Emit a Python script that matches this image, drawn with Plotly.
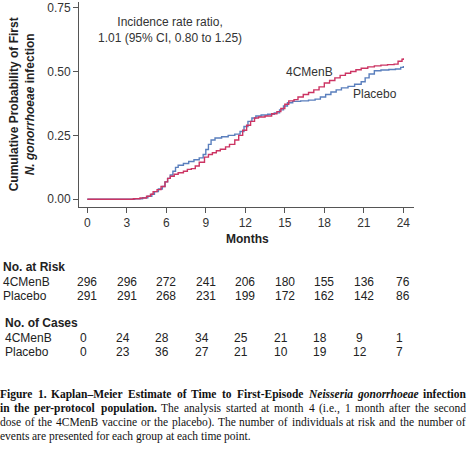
import re
import plotly.graph_objects as go

W, H = 468, 458

# Kaplan-Meier curves (months, cumulative probability)
t_menb = [0, 3.5, 4.0, 4.5, 4.8, 5.0, 5.3, 5.6, 5.9, 6.1, 6.3, 6.6, 6.9, 7.3, 7.6, 7.9, 8.2, 8.5,
          8.9, 9.2, 9.5, 9.8, 10.1, 10.5, 10.8, 11.2, 11.5, 11.8, 12.1, 12.4, 12.7, 13.0, 13.5,
          14.0, 14.4, 14.7, 15.0, 15.3, 15.7, 16.0, 16.4, 16.8, 17.2, 17.6, 18.0, 18.4, 18.8,
          19.2, 19.6, 20.0, 20.4, 20.8, 21.3, 21.8, 22.3, 22.8, 23.3, 23.6, 23.9, 24.0]
p_menb = [0, 0.002, 0.005, 0.012, 0.02, 0.03, 0.038, 0.05, 0.068, 0.082, 0.09, 0.098, 0.104,
          0.11, 0.117, 0.12, 0.13, 0.145, 0.165, 0.175, 0.182, 0.19, 0.196, 0.205, 0.215, 0.232,
          0.25, 0.27, 0.29, 0.305, 0.318, 0.322, 0.326, 0.335, 0.343, 0.355, 0.372, 0.385, 0.39,
          0.40, 0.41, 0.418, 0.428, 0.44, 0.455, 0.465, 0.475, 0.485, 0.493, 0.50, 0.507, 0.513,
          0.518, 0.522, 0.525, 0.527, 0.529, 0.54, 0.548, 0.552]

t_plac = [0, 3.6, 4.2, 4.6, 4.9, 5.1, 5.4, 5.7, 5.9, 6.1, 6.3, 6.5, 6.7, 6.9, 7.3, 7.7, 8.1, 8.5,
          8.8, 9.0, 9.2, 9.4, 9.7, 10.2, 10.7, 11.2, 11.6, 11.9, 12.2, 12.5, 12.8, 13.2, 13.7,
          14.2, 14.6, 14.9, 15.2, 15.6, 16.2, 16.8, 17.3, 17.7, 18.1, 18.5, 18.9, 19.3, 19.8,
          20.3, 20.8, 21.1, 21.4, 21.8, 22.3, 22.9, 23.4, 23.8, 24.0]
p_plac = [0, 0.002, 0.006, 0.012, 0.02, 0.03, 0.04, 0.05, 0.068, 0.082, 0.095, 0.11, 0.125,
          0.133, 0.14, 0.148, 0.155, 0.162, 0.175, 0.195, 0.215, 0.232, 0.24, 0.245, 0.25, 0.255,
          0.265, 0.285, 0.305, 0.318, 0.326, 0.33, 0.333, 0.338, 0.35, 0.365, 0.378, 0.383, 0.385,
          0.388, 0.392, 0.4, 0.41, 0.42, 0.428, 0.436, 0.442, 0.45, 0.46, 0.475, 0.49, 0.503,
          0.506, 0.508, 0.51, 0.516, 0.522]

months = [0, 3, 6, 9, 12, 15, 18, 21, 24]
risk_menb = [296, 296, 272, 241, 206, 180, 155, 136, 76]
risk_plac = [291, 291, 268, 231, 199, 172, 162, 142, 86]
cases_menb = [0, 24, 28, 34, 25, 21, 18, 9, 1]
cases_plac = [0, 23, 36, 27, 21, 10, 19, 12, 7]

caption = [
    "<b>Figure 1. Kaplan–Meier Estimate of Time to First-Episode <i>Neisseria gonorrhoeae</i> infection</b>",
    "<b>in the per-protocol population.</b> The analysis started at month 4 (i.e., 1 month after the second",
    "dose of the 4CMenB vaccine or the placebo). The number of individuals at risk and the number of",
    "events are presented for each group at each time point.",
]

RED = "#cc3463"
BLUE = "#5a7fbd"
TXT = "#222222"
CAP_SIZE = 11.5

# Times advance widths (1/1000 em), used to set the caption justified word by word
_reg = dict(zip("abcdefghijklmnopqrstuvwxyz", [444, 500, 444, 500, 444, 333, 500, 500, 278, 278, 500,
                                               278, 778, 500, 500, 500, 500, 333, 389, 278, 500, 500,
                                               722, 500, 500, 444]))
_reg.update({"C": 667, "M": 889, "B": 667, "T": 611, "(": 333, ")": 333, ".": 250, ",": 250,
             "-": 333, "–": 500})
_bold = dict(zip("abcdefghijklmnopqrstuvwxyz", [500, 556, 444, 556, 444, 333, 500, 556, 278, 333, 556,
                                                278, 833, 556, 500, 556, 556, 444, 389, 333, 556, 500,
                                                722, 500, 500, 444]))
_bold.update({"F": 611, "K": 778, "M": 944, "E": 667, "T": 667, ".": 250, ",": 250,
              "-": 333, "–": 500})
_bital = dict(_bold)
_bital.update({"N": 722, "r": 389, "a": 500, "n": 556, "h": 556})


def word_width(word, bold, ital):
    tab = _bital if (bold and ital) else (_bold if bold else _reg)
    return sum(tab.get(c, 500) for c in word) * CAP_SIZE / 1000


def py(p):
    # pixel row -> paper y
    return 1 - p / H


def label(x, ypix, text, anchor="center", xref="paper", size=12, color=TXT, **kw):
    return dict(x=x, y=py(ypix), xref=xref, yref="paper", text=text, showarrow=False,
                xanchor=anchor, yanchor="middle", font=dict(size=size, color=color), **kw)


fig = go.Figure()
fig.add_trace(go.Scatter(x=t_plac, y=p_plac, mode="lines", line_shape="hv",
                         line=dict(color=BLUE, width=1.4), showlegend=False))
fig.add_trace(go.Scatter(x=t_menb, y=p_menb, mode="lines", line_shape="hv",
                         line=dict(color=RED, width=1.4), showlegend=False))

ann = []
ann.append(label(170 / W, 30, "Incidence rate ratio,<br>1.01 (95% CI, 0.80 to 1.25)", color="#333333"))
ann.append(label(309 / W, 72, "4CMenB", color="#333333"))
ann.append(label(375 / W, 94, "Placebo", color="#333333"))
ann.append(label(247 / W, 239, "<b>Months</b>"))

# numbers at risk / cases
ann.append(label(1 / W, 267, "<b>No. at Risk</b>", anchor="left"))
ann.append(label(3 / W, 323, "<b>No. of Cases</b>", anchor="left"))
rows = [("4CMenB", risk_menb, 282, 1, 0), ("Placebo", risk_plac, 296, 1, 0),
        ("4CMenB", cases_menb, 338, 3, -4), ("Placebo", cases_plac, 352, 3, -4)]
for name, vals, ypix, xl, sh in rows:
    ann.append(label(xl / W, ypix, name, anchor="left"))
    for m, v in zip(months, vals):
        ann.append(label(m, ypix, str(v), xref="x", xshift=sh))

# caption: split into words, keep track of bold/italic, spread the words over the width
capfont = dict(family="Liberation Serif", size=CAP_SIZE, color="#111111")
for i, line in enumerate(caption):
    bold = ital = False
    words = []
    for tok in line.split(" "):
        for tag in re.findall(r"<(/?[bi])>", tok.split(re.sub(r"<[^>]+>", "", tok))[0]):
            bold = {"b": True, "/b": False}.get(tag, bold)
            ital = {"i": True, "/i": False}.get(tag, ital)
        plain = re.sub(r"<[^>]+>", "", tok)
        words.append((plain, bold, ital))
        for tag in re.findall(r"<(/?[bi])>", tok[len(tok.split(plain)[0]) + len(plain):]):
            bold = {"b": True, "/b": False}.get(tag, bold)
            ital = {"i": True, "/i": False}.get(tag, ital)
    widths = [word_width(w, b, it) for w, b, it in words]
    if i < len(caption) - 1:
        gap = (466 - sum(widths)) / (len(words) - 1)
    else:
        gap = 250 * CAP_SIZE / 1000
    x = 0.0
    for (w, b, it), wd in zip(words, widths):
        txt = w
        if it:
            txt = "<i>" + txt + "</i>"
        if b:
            txt = "<b>" + txt + "</b>"
        ann.append(dict(x=x / W, y=py(394 + 14 * i), xref="paper", yref="paper", text=txt,
                        showarrow=False, xanchor="left", yanchor="middle",
                        borderpad=0, borderwidth=0, font=capfont))
        x += wd + gap

fig.update_layout(
    width=W, height=H,
    margin=dict(l=0, r=0, t=0, b=0),
    paper_bgcolor="white", plot_bgcolor="white",
    font=dict(family="Liberation Sans, Arial", size=12, color=TXT),
    annotations=ann,
    xaxis=dict(domain=[79 / W, 414 / W], range=[-0.63, 24.81], tickvals=months,
               showgrid=False, zeroline=False, showline=True, linecolor="#555555",
               ticks="outside", ticklen=5, tickcolor="#555555",
               tickfont=dict(size=12, color="#333333")),
    yaxis=dict(domain=[py(206.7), py(2)], range=[-0.029, 0.772],
               tickvals=[0, 0.25, 0.5, 0.75], tickformat=".2f",
               showgrid=False, zeroline=False, showline=True, linecolor="#555555",
               ticks="outside", ticklen=5, tickcolor="#555555",
               tickfont=dict(size=12, color="#333333"),
               title=dict(text="<b>Cumulative Probability of First<br><i>N. gonorrhoeae</i> infection</b>",
                          font=dict(size=12, color=TXT), standoff=10)),
)

# the page body has a default 8px margin; drop it so the figure sits at 0,0
fig.write_html("out.html", config={"displayModeBar": False},
               post_script="document.body.style.margin='0px';")
